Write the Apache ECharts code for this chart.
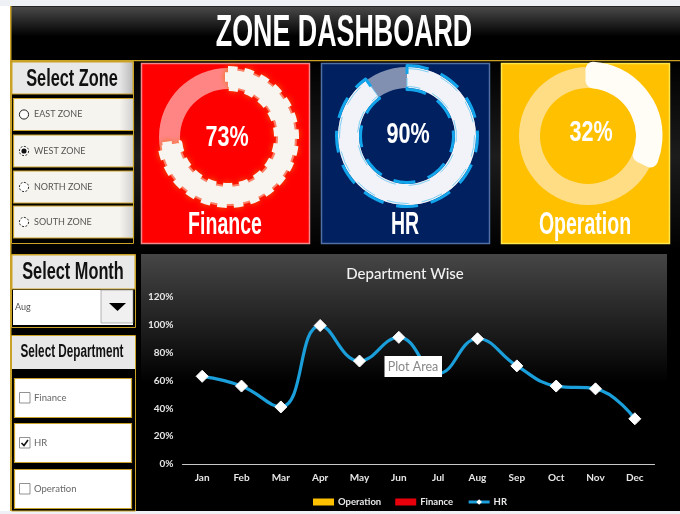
<!DOCTYPE html>
<html>
<head>
<meta charset="utf-8">
<title>Zone Dashboard</title>
<script src="https://cdn.jsdelivr.net/npm/echarts@6/dist/echarts.min.js"></script>
<style>
html, body { margin: 0; padding: 0; background: #fff; }
#main { width: 680px; height: 514px; }
</style>
</head>
<body>
<div id="main"></div>
<script>
const months = ['Jan', 'Feb', 'Mar', 'Apr', 'May', 'Jun', 'Jul', 'Aug', 'Sep', 'Oct', 'Nov', 'Dec'];
const hrValues = [63, 56, 41, 99.5, 74, 91, 65, 90, 70.5, 56, 54, 32.5];
const deptNames = ['Finance', 'HR', 'Operation'];
const deptValues = [73, 90, 32];
const zoneNames = ['EAST ZONE', 'WEST ZONE', 'NORTH ZONE', 'SOUTH ZONE'];
const legendNames = ['Operation', 'Finance', 'HR'];
const selectedMonth = 'Aug';

const GOLD = '#c9a227';
const HEAD = '"Liberation Sans", sans-serif';
const BODY = 'Lato, "Open Sans", sans-serif';

const chart = echarts.init(document.getElementById('main'));

function box(x, y, w, h, fill, stroke, lw, z) {
    return {
        type: 'rect',
        shape: { x: x, y: y, width: w, height: h },
        style: { fill: fill, stroke: stroke || null, lineWidth: lw || 0 },
        z: z || 1,
        silent: true
    };
}

function label(text, x, y, font, color, align, z, squeeze) {
    return {
        type: 'text',
        x: x,
        y: y,
        scaleX: squeeze || 1,
        style: { text: text, font: font, fill: color, align: align || 'center', verticalAlign: 'middle' },
        z: z || 20,
        silent: true
    };
}

function vert(stops) {
    return new echarts.graphic.LinearGradient(0, 0, 0, 1, stops);
}

// light face with a grey falloff on the right, like the slicer buttons
function face(light, dark) {
    return new echarts.graphic.LinearGradient(0, 0, 1, 0, [
        { offset: 0, color: light },
        { offset: 0.88, color: light },
        { offset: 1, color: dark }
    ]);
}

const shell = [
    box(0, 0, 680, 6, '#eef1f5'),
    box(10, 6, 670, 505, '#000'),
    box(0, 511, 680, 3, '#eef1f5'),
    box(10.5, 6.5, 669.5, 54, vert([{ offset: 0, color: '#4a4a4a' }, { offset: 0.55, color: '#000' }, { offset: 1, color: '#000' }]), null),
    box(10, 6, 1.5, 505, GOLD),
    box(10, 60, 670, 1.5, GOLD),
    label('ZONE DASHBOARD', 344, 34, 'bold 44px ' + HEAD, '#fff', 'center', 20, 0.61)
];

// zone selector
const zonePanel = [
    box(11.5, 61.5, 122, 182, '#000', GOLD, 1),
    box(12, 62, 121, 32, face('#e8e8e8', '#b8b8b8'), GOLD, 1),
    label('Select Zone', 72, 79, 'bold 24px ' + HEAD, '#111', 'center', 20, 0.68)
];
const zoneY = [114.5, 151, 187, 222];
zoneNames.forEach(function (name, i) {
    zonePanel.push(box(13.5, zoneY[i] - 16, 120, 32, face('#f6f4ee', '#cfcfcf'), GOLD, 1.2));
    zonePanel.push({
        type: 'circle',
        shape: { cx: 24, cy: zoneY[i], r: 4.6 },
        style: { fill: '#fff', stroke: '#222', lineWidth: 1, lineDash: i === 0 ? null : [2, 1.5] },
        z: 5,
        silent: true
    });
    if (i === 1) {
        zonePanel.push({ type: 'circle', shape: { cx: 24, cy: zoneY[i], r: 2.6 }, style: { fill: '#111' }, z: 6, silent: true });
    }
    zonePanel.push(label(name, 34, zoneY[i], '9px ' + BODY, '#555', 'left'));
});

// month selector
const monthPanel = [
    box(11.5, 254.5, 124, 73, '#000', GOLD, 1),
    box(12, 255, 123, 34, '#e8e8e8', GOLD, 1),
    label('Select Month', 73, 272, 'bold 24px ' + HEAD, '#111', 'center', 20, 0.68),
    box(13, 290, 120, 35, '#fff'),
    box(101, 290, 32, 33, '#f0f0f0', '#888', 0.6),
    {
        type: 'polygon',
        shape: { points: [[109, 303], [126, 303], [117.5, 311]] },
        style: { fill: '#000' },
        z: 5,
        silent: true
    },
    label(selectedMonth, 15, 307, '9px ' + BODY, '#555', 'left')
];

// department selector
const deptPanel = [
    box(11.5, 335.5, 124, 175.5, '#000', GOLD, 1),
    box(12, 336, 123, 33, '#e8e8e8'),
    label('Select Department', 72, 352, 'bold 17.5px ' + HEAD, '#111', 'center', 20, 0.67)
];
const deptY = [398, 443, 489];
deptNames.forEach(function (name, i) {
    deptPanel.push(box(14.5, deptY[i] - 19.5, 117, 39, '#fff', GOLD, 1.2));
    deptPanel.push(box(19.5, deptY[i] - 5.5, 10.5, 10.5, '#fff', '#777', 0.8, 5));
    if (name === 'HR') {
        deptPanel.push({
            type: 'polyline',
            shape: { points: [[21.5, deptY[i]], [24, deptY[i] + 2.5], [28, deptY[i] - 3]] },
            style: { stroke: '#111', lineWidth: 1.6, fill: null },
            z: 6,
            silent: true
        });
    }
    deptPanel.push(label(name, 34, deptY[i], '9.5px ' + BODY, '#666', 'left'));
});

// the three department cards
const cardX = [141, 321, 501];
const cardFill = ['#ff0000', '#002060', '#ffc000'];
const cardEdge = ['#f08a8a', '#4f6fa5', '#ffe64d'];
const ringCx = [228, 407, 588];
const ringCy = [137, 136, 136];
const pctX = [227, 408, 591];
const pctY = [138, 135, 133];
const ringRest = ['#ff8585', '#8190b0', '#ffdd85'];
const cards = [box(134, 61.5, 546, 190, vert([{ offset: 0, color: '#000' }, { offset: 0.5, color: '#1c1c1c' }, { offset: 1, color: '#000' }]))];
deptNames.forEach(function (name, i) {
    cards.push(box(cardX[i] + 0.5, 63.5, 168, 180, cardFill[i], cardEdge[i], 1.5, 2));
    cards.push(label(deptValues[i] + '%', pctX[i], pctY[i], 'bold 30px ' + HEAD, '#fff', 'center', 20, 0.72));
    cards.push(label(name, cardX[i] + 84, 225, 'bold 31px ' + HEAD, '#fff', 'center', 20, 0.63));
});

const chartPanel = [
    box(141, 254, 526, 257, vert([{ offset: 0, color: '#464646' }, { offset: 0.5, color: '#000' }, { offset: 1, color: '#000' }])),
    box(384.5, 356, 57.5, 21, '#fff', null, 0, 30),
    label('Plot Area', 413, 367, '12.5px ' + BODY, '#888', 'center', 31)
];

function restRing(i) {
    return {
        type: 'pie',
        center: [ringCx[i], ringCy[i]],
        radius: [48, 69],
        startAngle: 90,
        silent: true,
        label: { show: false },
        z: 3,
        data: [{ value: 100, itemStyle: { color: ringRest[i] } }]
    };
}

function valueRing(i, radius, style) {
    return {
        type: 'pie',
        center: [ringCx[i], ringCy[i]],
        radius: radius,
        startAngle: 90,
        silent: true,
        label: { show: false },
        z: 4,
        data: [
            { value: deptValues[i], itemStyle: style },
            { value: 100 - deptValues[i], itemStyle: { color: 'transparent' } }
        ]
    };
}

const option = {
    backgroundColor: '#fff',
    animation: false,
    graphic: { elements: [].concat(shell, cards, zonePanel, monthPanel, deptPanel, chartPanel) },
    title: {
        text: 'Department Wise',
        left: 400,
        top: 262,
        textAlign: 'center',
        textStyle: { color: '#f2f2f2', fontFamily: BODY, fontSize: 15, fontWeight: 500 }
    },
    legend: {
        left: 313,
        top: 497,
        padding: 0,
        itemWidth: 21,
        itemHeight: 7,
        itemGap: 14,
        lineStyle: { width: 3 },
        textStyle: { color: '#e8e8e8', fontFamily: BODY, fontSize: 9.5, fontWeight: 'bold', padding: [0, 0, 0, -1] },
        data: [
            { name: legendNames[0], icon: 'rect' },
            { name: legendNames[1], icon: 'rect' },
            { name: legendNames[2] }
        ]
    },
    grid: { left: 182.5, right: 25.5, top: 297, bottom: 50 },
    xAxis: {
        type: 'category',
        data: months,
        z: 10,
        axisTick: { show: false },
        axisLine: { lineStyle: { color: '#c8c8c8', width: 1.2 } },
        axisLabel: { color: '#e6e6e6', fontFamily: BODY, fontSize: 10, fontWeight: 'bold', margin: 9 }
    },
    yAxis: {
        type: 'value',
        min: 0,
        max: 120,
        interval: 20,
        z: 10,
        splitLine: { show: false },
        axisLine: { show: false },
        axisTick: { show: false },
        axisLabel: { color: '#e6e6e6', fontFamily: BODY, fontSize: 10, fontWeight: 'bold', margin: 9, formatter: '{value}%' }
    },
    series: [
        { name: legendNames[0], type: 'line', data: [], itemStyle: { color: '#ffc000' } },
        { name: legendNames[1], type: 'line', data: [], itemStyle: { color: '#e8000b' } },
        {
            name: legendNames[2],
            type: 'line',
            data: hrValues,
            smooth: 0.45,
            symbol: 'diamond',
            // Jul sits under the Plot Area tip, keep its marker from poking out below
            symbolSize: function (value, params) {
                return params.dataIndex === 6 ? 6 : 12;
            },
            showAllSymbol: true,
            lineStyle: { color: '#1a9fdb', width: 3.2 },
            itemStyle: { color: '#fff', borderColor: '#fff' },
            z: 10
        },

        restRing(0),
        valueRing(0, [49, 68], { color: 'transparent', borderColor: '#f8f5f0', borderWidth: 6, borderType: [9.5, 7], shadowBlur: 6, shadowColor: '#e87000' }),
        valueRing(0, [50, 67], { color: '#f8f5f0' }),

        restRing(1),
        valueRing(1, [48, 69], { color: '#f2f3f8' }),
        valueRing(1, [49.5, 67.5], { color: 'transparent', borderColor: '#7fd0f5', borderWidth: 1, borderType: [22, 13] }),
        valueRing(1, [46.5, 70.5], { color: 'transparent', borderColor: '#13a5ec', borderWidth: 3, borderType: [22, 13] }),

        restRing(2),
        valueRing(2, [50.5, 72], { color: '#fffdf5', borderColor: '#fffdf5', borderWidth: 5, borderRadius: 5 })
    ]
};

chart.setOption(option);

window.addEventListener('resize', function () {
    chart.resize();
});
</script>
</body>
</html>
